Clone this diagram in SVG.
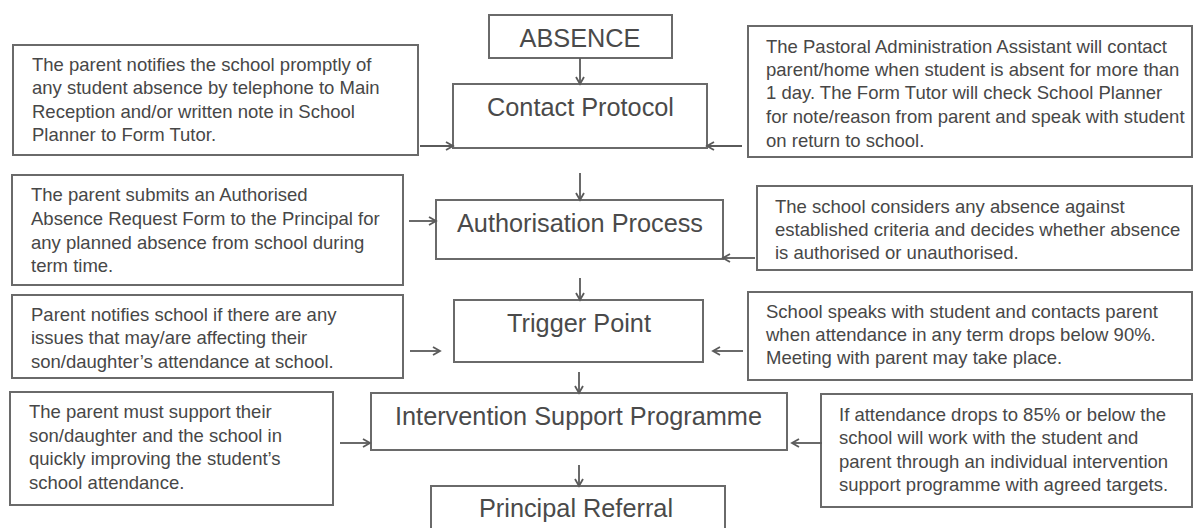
<svg xmlns="http://www.w3.org/2000/svg" width="1194" height="528" viewBox="0 0 1194 528">
<defs>
<style>
.box{fill:#fff;stroke:#6a6a6a;stroke-width:2}
.t{font-family:"Liberation Sans",Arial,sans-serif;font-size:18.5px;fill:#474747}
.h{font-family:"Liberation Sans",Arial,sans-serif;font-size:25.3px;fill:#4a4a4a;text-anchor:middle}
.c{stroke:#5a5a5a;stroke-width:1.8;fill:none}
</style>
<marker id="ah" markerUnits="userSpaceOnUse" markerWidth="10" markerHeight="10" refX="8" refY="5" orient="auto">
<path d="M1,1 L8,5 L1,9" fill="none" stroke="#5a5a5a" stroke-width="1.8"/>
</marker>
</defs>
<rect width="1194" height="528" fill="#fff"/>

<g id="absence">
<rect class="box" x="489" y="15" width="183" height="43"/>
<text class="h" x="580" y="47">ABSENCE</text>
</g>
<g id="contact-protocol">
<rect class="box" x="453" y="84" width="254" height="64"/>
<text class="h" x="580.5" y="116">Contact Protocol</text>
</g>
<g id="authorisation-process">
<rect class="box" x="436" y="200" width="287" height="59"/>
<text class="h" x="580" y="232">Authorisation Process</text>
</g>
<g id="trigger-point">
<rect class="box" x="454" y="300" width="249" height="62"/>
<text class="h" x="579" y="332">Trigger Point</text>
</g>
<g id="intervention-support">
<rect class="box" x="371" y="393" width="416" height="57"/>
<text class="h" x="578.5" y="425">Intervention Support Programme</text>
</g>
<g id="principal-referral">
<rect class="box" x="431" y="486" width="294" height="50"/>
<text class="h" x="576" y="517">Principal Referral</text>
</g>

<g id="left-1">
<rect class="box" x="13" y="45" width="405" height="110"/>
<text class="t" x="32" y="71">The parent notifies the school promptly of</text>
<text class="t" x="32" y="94">any student absence by telephone to Main</text>
<text class="t" x="32" y="118">Reception and/or written note in School</text>
<text class="t" x="32" y="141">Planner to Form Tutor.</text>
</g>
<g id="right-1">
<rect class="box" x="748" y="26" width="444" height="131"/>
<text class="t" x="766" y="53">The Pastoral Administration Assistant will contact</text>
<text class="t" x="766" y="76">parent/home when student is absent for more than</text>
<text class="t" x="766" y="99">1 day. The Form Tutor will check School Planner</text>
<text class="t" x="766" y="123">for note/reason from parent and speak with student</text>
<text class="t" x="766" y="147">on return to school.</text>
</g>
<g id="left-2">
<rect class="box" x="12" y="175" width="391" height="110"/>
<text class="t" x="31" y="201">The parent submits an Authorised</text>
<text class="t" x="31" y="225">Absence Request Form to the Principal for</text>
<text class="t" x="31" y="249">any planned absence from school during</text>
<text class="t" x="31" y="272">term time.</text>
</g>
<g id="right-2">
<rect class="box" x="757" y="186" width="435" height="84"/>
<text class="t" x="775" y="213">The school considers any absence against</text>
<text class="t" x="775" y="236">established criteria and decides whether absence</text>
<text class="t" x="775" y="259">is authorised or unauthorised.</text>
</g>
<g id="left-3">
<rect class="box" x="12" y="295" width="391" height="83"/>
<text class="t" x="31" y="321">Parent notifies school if there are any</text>
<text class="t" x="31" y="344">issues that may/are affecting their</text>
<text class="t" x="31" y="368">son/daughter’s attendance at school.</text>
</g>
<g id="right-3">
<rect class="box" x="748" y="292" width="444" height="88"/>
<text class="t" x="766" y="318">School speaks with student and contacts parent</text>
<text class="t" x="766" y="341">when attendance in any term drops below 90%.</text>
<text class="t" x="766" y="364">Meeting with parent may take place.</text>
</g>
<g id="left-4">
<rect class="box" x="10" y="392" width="323" height="113"/>
<text class="t" x="29" y="418">The parent must support their</text>
<text class="t" x="29" y="442">son/daughter and the school in</text>
<text class="t" x="29" y="465">quickly improving the student’s</text>
<text class="t" x="29" y="489">school attendance.</text>
</g>
<g id="right-4">
<rect class="box" x="821" y="394" width="371" height="113"/>
<text class="t" x="839" y="421">If attendance drops to 85% or below the</text>
<text class="t" x="839" y="444">school will work with the student and</text>
<text class="t" x="839" y="468">parent through an individual intervention</text>
<text class="t" x="839" y="491">support programme with agreed targets.</text>
</g>

<g id="connectors">
<line class="c" x1="580" y1="58" x2="580" y2="84" marker-end="url(#ah)"/>
<line class="c" x1="580" y1="173" x2="580" y2="200" marker-end="url(#ah)"/>
<line class="c" x1="580" y1="278" x2="580" y2="300" marker-end="url(#ah)"/>
<line class="c" x1="579" y1="372" x2="579" y2="393" marker-end="url(#ah)"/>
<line class="c" x1="579" y1="465" x2="579" y2="486" marker-end="url(#ah)"/>
<line class="c" x1="420" y1="146" x2="453" y2="146" marker-end="url(#ah)"/>
<line class="c" x1="409" y1="221" x2="436" y2="221" marker-end="url(#ah)"/>
<line class="c" x1="410" y1="351" x2="440" y2="351" marker-end="url(#ah)"/>
<line class="c" x1="340" y1="443" x2="370" y2="443" marker-end="url(#ah)"/>
<line class="c" x1="742" y1="146" x2="707" y2="146" marker-end="url(#ah)"/>
<line class="c" x1="755" y1="258" x2="723" y2="258" marker-end="url(#ah)"/>
<line class="c" x1="743" y1="351" x2="713" y2="351" marker-end="url(#ah)"/>
<line class="c" x1="822" y1="443" x2="792" y2="443" marker-end="url(#ah)"/>
</g>
</svg>
